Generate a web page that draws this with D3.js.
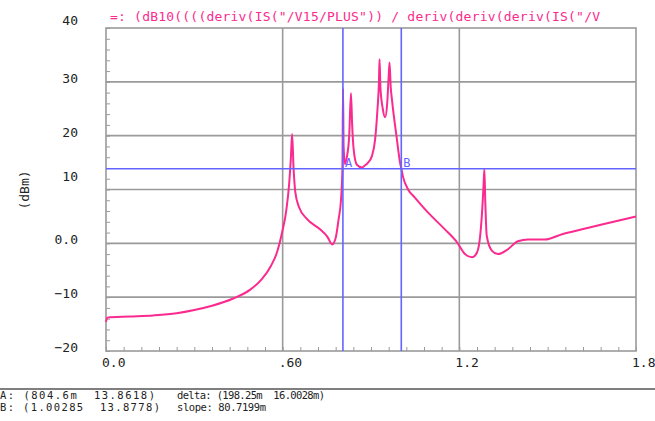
<!DOCTYPE html>
<html>
<head>
<meta charset="utf-8">
<script src="https://cdn.jsdelivr.net/npm/d3@7"></script>
<style>
  body { margin: 0; background: #fff; }
  svg text { font-family: "DejaVu Sans Mono", monospace; white-space: pre; }
</style>
</head>
<body>
<div class="plot"></div>
<script>
var w = 655,
    h = 421;

// curve data (x in V, y in dBm)
var xs = [0, 0.004, 0.08, 0.16, 0.24, 0.30, 0.36, 0.43, 0.49, 0.53, 0.56, 0.58, 0.598, 0.612, 0.622, 0.628, 0.632,
  0.637, 0.643, 0.655, 0.683, 0.727, 0.752, 0.768, 0.780, 0.790, 0.798, 0.803, 0.805, 0.807, 0.812, 0.818, 0.826,
  0.832, 0.836, 0.841, 0.852, 0.869, 0.880, 0.890, 0.903, 0.914, 0.922, 0.927, 0.929, 0.932, 0.940, 0.948, 0.955,
  0.960, 0.963, 0.967, 0.971, 0.988, 0.998, 1.003, 1.009, 1.026, 1.049, 1.094, 1.151, 1.192, 1.219, 1.243, 1.260,
  1.271, 1.278, 1.282, 1.285, 1.288, 1.293, 1.311, 1.331, 1.365, 1.399, 1.433, 1.491, 1.549, 1.617, 1.684, 1.8];
var ys = [-14.6, -13.8, -13.6, -13.4, -13.0, -12.4, -11.6, -10.3, -8.6, -6.6, -4.2, -1.8, 2.0, 6.0, 11.0, 16.0, 20.3,
  14.0, 9.5, 6.8, 4.5, 2.6, 1.2, -0.2, 1.0, 4.5, 8.0, 14.0, 28.8, 18.0, 14.7, 16.0, 20.0,
  27.9, 22.0, 17.5, 14.6, 14.1, 14.5, 15.0, 16.2, 19.3, 24.9, 30.0, 34.2, 29.0, 25.0, 23.4, 26.0,
  31.0, 33.6, 29.0, 26.8, 19.3, 15.2, 13.87, 12.3, 10.0, 8.5, 5.7, 2.6, 0.2, -2.0, -2.6, -1.7,
  1.5, 6.5, 10.5, 13.75, 8.0, 1.4, -1.4, -2.0, -1.1, 0.4, 0.7, 0.7, 1.7, 2.6, 3.5, 5.0];

var yTicks = [40, 30, 20, 10, 0, -10, -20];
var yTickLabels = ['40', '30', '20', '10', '0.0', '-10', '-20'];
var xTicks = [0, 0.6, 1.2, 1.8];
var xTickLabels = ['0.0', '.60', '1.2', '1.8'];

var markerA = {name: 'A', x: 0.8046, y: 13.8618};
var markerB = {name: 'B', x: 1.00285, y: 13.8778};

var title = '=: (dB10((((deriv(IS("/V15/PLUS")) / deriv(deriv(deriv(IS("/V';
var yLabel = '(dBm)';
var readoutLeft = ['A: (804.6m  13.8618)', 'B: (1.00285  13.8778)'];
var readoutRight = ['delta: (198.25m  16.0028m)', 'slope: 80.7199m'];

var curveCol = '#fb2a8e',
    markCol = '#6464ff',
    gridCol = '#9a9a9a';

var svg = d3.select('.plot').append('svg').attr('width', w).attr('height', h);

var x = d3.scaleLinear().domain([0, 1.8]).range([106, 636]);
var y = d3.scaleLinear().domain([-20, 40]).range([351, 28]);

// grid
svg.append('g').selectAll('line')
   .data(xTicks.slice(1, -1))
   .enter().append('line')
   .attr('x1', function (d) { return x(d); })
   .attr('x2', function (d) { return x(d); })
   .attr('y1', y(40)).attr('y2', y(-20))
   .attr('stroke', gridCol).attr('stroke-width', 1.6);

svg.append('g').selectAll('line')
   .data(yTicks.slice(1, -1))
   .enter().append('line')
   .attr('x1', x(0)).attr('x2', x(1.8))
   .attr('y1', function (d) { return y(d); })
   .attr('y2', function (d) { return y(d); })
   .attr('stroke', gridCol).attr('stroke-width', 1.6);

// minor ticks through the axes
var minorY = d3.range(-20, 40.01, 2);
svg.append('g')
   .attr('transform', 'translate(' + x(0) + ',0)')
   .call(d3.axisRight(y).tickValues(minorY).tickSize(4).tickFormat(''))
   .call(function (g) { g.select('.domain').remove(); })
   .selectAll('line').attr('stroke', gridCol);

var minorX = d3.range(0, 1.801, 0.06);
svg.append('g')
   .attr('transform', 'translate(0,' + y(-20) + ')')
   .call(d3.axisTop(x).tickValues(minorX).tickSize(4).tickFormat(''))
   .call(function (g) { g.select('.domain').remove(); })
   .selectAll('line').attr('stroke', gridCol);

// frame
svg.append('rect')
   .attr('x', x(0)).attr('y', y(40))
   .attr('width', x(1.8) - x(0)).attr('height', y(-20) - y(40))
   .attr('fill', 'none').attr('stroke', gridCol).attr('stroke-width', 1.6);

// tick labels
svg.append('g').selectAll('text')
   .data(yTicks)
   .enter().append('text')
   .attr('x', 78)
   .attr('y', function (d) { return y(d) + (d === 10 ? -9 : (d === 40 ? -3 : 1)); })
   .attr('text-anchor', 'end')
   .attr('font-size', 13)
   .attr('fill', '#222')
   .text(function (d, i) { return yTickLabels[i].replace('-', '\u2212'); });

svg.append('g').selectAll('text')
   .data(xTicks)
   .enter().append('text')
   .attr('x', function (d) { return x(d) - 4; })
   .attr('y', 367)
   .attr('font-size', 13)
   .attr('fill', '#222')
   .text(function (d, i) { return xTickLabels[i]; });

svg.append('text')
   .attr('transform', 'translate(29,190) rotate(-90)')
   .attr('text-anchor', 'middle')
   .attr('font-size', 13)
   .attr('fill', '#222')
   .text(yLabel);

// curve
var pts = xs.map(function (d, i) { return [d, ys[i]]; });
var line = d3.line()
   .curve(d3.curveMonotoneX)
   .x(function (p) { return x(p[0]); })
   .y(function (p) { return y(p[1]); });

svg.append('path')
   .datum(pts)
   .attr('d', line)
   .attr('fill', 'none')
   .attr('stroke', curveCol)
   .attr('stroke-width', 2)
   .attr('stroke-linejoin', 'round');

// markers
svg.append('line')
   .attr('x1', x(0)).attr('x2', x(1.8))
   .attr('y1', y(markerA.y)).attr('y2', y(markerA.y))
   .attr('stroke', markCol).attr('stroke-width', 1.6);

var marks = [markerA, markerB];
svg.append('g').selectAll('line')
   .data(marks)
   .enter().append('line')
   .attr('x1', function (m) { return x(m.x); })
   .attr('x2', function (m) { return x(m.x); })
   .attr('y1', y(40)).attr('y2', y(-20))
   .attr('stroke', markCol).attr('stroke-width', 1.6);

svg.append('g').selectAll('text')
   .data(marks)
   .enter().append('text')
   .attr('x', function (m) { return x(m.x) + 2; })
   .attr('y', function (m) { return y(m.y) - 2; })
   .attr('font-size', 12)
   .attr('fill', markCol)
   .text(function (m) { return m.name; });

// title
svg.append('text')
   .attr('x', 110).attr('y', 21)
   .attr('font-size', 13)
   .attr('fill', curveCol)
   .attr('textLength', 490)
   .text(title);

// readout
svg.append('line')
   .attr('x1', 0).attr('x2', w)
   .attr('y1', 389).attr('y2', 389)
   .attr('stroke', '#555').attr('stroke-width', 1.5);

var leftLen = [155, 160],
    rightLen = [148, 89];
readoutLeft.forEach(function (t, i) {
  svg.append('text').attr('x', 0).attr('y', 399 + i * 12)
     .attr('font-size', 10.5).attr('fill', '#222')
     .attr('textLength', leftLen[i]).text(t);
});
readoutRight.forEach(function (t, i) {
  svg.append('text').attr('x', 177).attr('y', 399 + i * 12)
     .attr('font-size', 10.5).attr('fill', '#222')
     .attr('textLength', rightLen[i]).text(t);
});
</script>
</body>
</html>
